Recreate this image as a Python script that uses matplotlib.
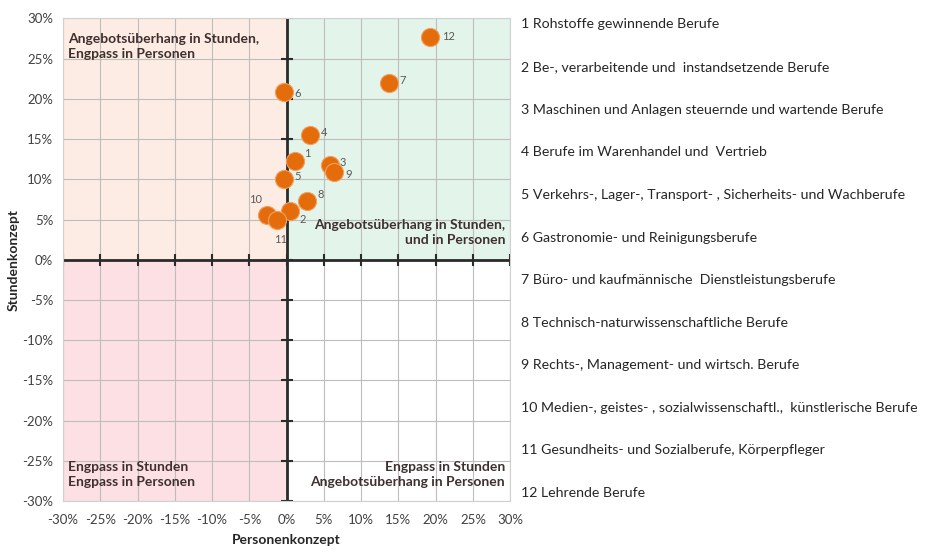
import matplotlib.pyplot as plt
from matplotlib.ticker import FuncFormatter, MultipleLocator

# data (in %)
ids = [1, 2, 3, 4, 5, 6, 7, 8, 9, 10, 11, 12]
personen = [1.1, 0.4, 5.8, 3.1, -0.3, -0.4, 13.7, 2.8, 6.4, -2.6, -1.3, 19.3]
stunden = [12.3, 6.0, 11.8, 15.5, 10.0, 20.8, 21.9, 7.3, 10.9, 5.6, 4.9, 27.7]
berufe = [
    "1 Rohstoffe gewinnende Berufe",
    "2 Be-, verarbeitende und  instandsetzende Berufe",
    "3 Maschinen und Anlagen steuernde und wartende Berufe",
    "4 Berufe im Warenhandel und  Vertrieb",
    "5 Verkehrs-, Lager-, Transport- , Sicherheits- und Wachberufe",
    "6 Gastronomie- und Reinigungsberufe",
    "7 Büro- und kaufmännische  Dienstleistungsberufe",
    "8 Technisch-naturwissenschaftliche Berufe",
    "9 Rechts-, Management- und wirtsch. Berufe",
    "10 Medien-, geistes- , sozialwissenschaftl.,  künstlerische Berufe",
    "11 Gesundheits- und Sozialberufe, Körperpfleger",
    "12 Lehrende Berufe",
]

# label offsets in points (styling only)
offsets = {1: (7, 5), 2: (7, -6), 3: (7, 2), 4: (8, 2), 5: (7, 2), 6: (8, -1),
           7: (8, 2), 8: (7, 5), 9: (8, -2), 10: (-13, 11), 11: (-2, -14), 12: (8, 0)}

plt.rcParams['font.family'] = ['Lato', 'DejaVu Sans']

fig = plt.figure(figsize=(9.26, 5.55), dpi=100)
ax = fig.add_axes([0.068, 0.097, 0.483, 0.870])

lim = 30
ax.set_xlim(-lim, lim)
ax.set_ylim(-lim, lim)

# quadrant backgrounds
ax.fill_between([-lim, 0], 0, lim, color='#fdece3', zorder=0, lw=0)
ax.fill_between([0, lim], 0, lim, color='#e3f4ea', zorder=0, lw=0)
ax.fill_between([-lim, 0], -lim, 0, color='#fde0e3', zorder=0, lw=0)

ax.xaxis.set_major_locator(MultipleLocator(5))
ax.yaxis.set_major_locator(MultipleLocator(5))
pct = FuncFormatter(lambda v, p: f"{v:.0f}%")
ax.xaxis.set_major_formatter(pct)
ax.yaxis.set_major_formatter(pct)
ax.grid(True, color='#bdbdbd', lw=0.8, zorder=1)
ax.tick_params(length=0, labelsize=9.5, labelcolor='#404040')
ax.tick_params(axis='x', pad=9)
ax.tick_params(axis='y', pad=7)
for s in ax.spines.values():
    s.set_color('#d0d0d0')
    s.set_linewidth(0.8)

# thick axes through origin with cross ticks
ax.axhline(0, color='#2b2b2b', lw=2, zorder=2)
ax.axvline(0, color='#2b2b2b', lw=2, zorder=2)
ticks = range(-lim, lim + 1, 5)
ax.plot(list(ticks), [0] * len(ticks), ls='none', marker='|', ms=9, mew=1.5, color='#2b2b2b', zorder=2)
ax.plot([0] * len(ticks), list(ticks), ls='none', marker='_', ms=9, mew=1.5, color='#2b2b2b', zorder=2)

ax.scatter(personen, stunden, s=170, color='#e46c0a', edgecolor='#f0a060', lw=0.8, zorder=4)
for i, x, y in zip(ids, personen, stunden):
    ax.annotate(str(i), (x, y), xytext=offsets[i], textcoords='offset points',
                fontsize=8, color='#595959', va='center', ha='left', zorder=5)

qkw = dict(fontsize=10, fontweight='bold', color='#3f3030', zorder=3, va='center', linespacing=1.35)
ax.text(-29.3, 26.5, "Angebotsüberhang in Stunden,\nEngpass in Personen", ha='left', **qkw)
ax.text(29.3, 3.4, "Angebotsüberhang in Stunden,\nund in Personen", ha='right', multialignment='right', **qkw)
ax.text(-29.3, -26.7, "Engpass in Stunden\nEngpass in Personen", ha='left', **qkw)
ax.text(29.3, -26.7, "Engpass in Stunden\nAngebotsüberhang in Personen", ha='right', multialignment='right', **qkw)

ax.set_xlabel("Personenkonzept", fontsize=10, fontweight='bold', color='#262626', labelpad=6)
ax.set_ylabel("Stundenkonzept", fontsize=10, fontweight='bold', color='#262626', labelpad=2)

# category list on the right
for k, name in enumerate(berufe):
    fig.text(521 / 926, 1 - (24.5 + k * 42.6) / 555, name, fontsize=10.2, color='#262626',
             ha='left', va='center')

fig.savefig("out.png", dpi=100)
